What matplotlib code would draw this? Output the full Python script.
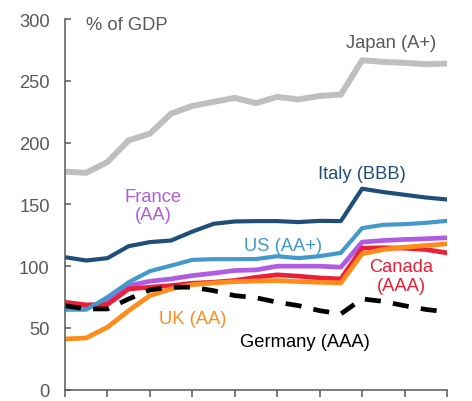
import numpy as np
import matplotlib
matplotlib.use('Agg')
import matplotlib.pyplot as plt

plt.rcParams['font.family'] = ['Liberation Sans', 'DejaVu Sans']

# Gross government debt, % of GDP (19 yearly observations)
okresy = np.arange(19)

japonia = [176.5, 175.6, 184.3, 201.8, 207.3, 223.5, 229.7, 233.0, 236.2, 232.0,
           237.0, 235.0, 237.8, 238.9, 266.7, 265.4, 264.6, 263.5, 264.0]
wlochy = [107.3, 104.6, 106.5, 116.2, 119.5, 120.8, 128.0, 134.3, 136.2, 136.5,
          136.5, 135.7, 136.7, 136.5, 162.7, 160.0, 157.8, 155.6, 154.0]
usa = [64.8, 64.8, 74.9, 87.0, 96.0, 100.5, 105.1, 105.7, 105.7, 105.8,
       108.1, 106.5, 108.1, 110.8, 130.8, 133.5, 134.0, 135.1, 136.7]
francja = [68.0, 66.5, 71.0, 84.3, 87.8, 89.7, 92.4, 94.3, 96.5, 97.0,
           100.0, 100.0, 100.0, 99.2, 119.5, 120.8, 121.6, 122.2, 123.0]
kanada = [70.8, 68.7, 69.0, 81.6, 83.0, 84.3, 86.2, 87.0, 88.4, 91.0,
          93.0, 91.9, 90.5, 89.7, 114.6, 114.9, 114.6, 113.5, 110.8]
wielka_brytania = [41.1, 41.9, 50.6, 64.0, 76.2, 81.6, 85.1, 86.5, 87.5, 88.0,
                   88.4, 87.5, 87.0, 86.5, 110.0, 113.5, 115.4, 116.7, 118.1]
niemcy = [68.0, 65.4, 65.4, 73.5, 80.8, 83.0, 83.0, 80.2, 76.2, 74.5,
          70.8, 68.1, 64.0, 61.4, 73.5, 71.5, 68.0, 65.0, 63.0]

SZARY = '#595959'

fig = plt.figure(figsize=(4.72, 4.02), dpi=100)
ax = fig.add_axes([0.1377, 0.028, 0.8093, 0.922])

ax.plot(okresy, japonia, color='#BFBFBF', lw=4.3)
ax.plot(okresy, wlochy, color='#1F4E79', lw=3.0)
ax.plot(okresy, francja, color='#B05CE0', lw=3.4)
ax.plot(okresy, kanada, color='#E8203A', lw=3.4)
ax.plot(okresy, wielka_brytania, color='#FF8C1A', lw=3.4)
ax.plot(okresy, usa, color='#4499CC', lw=3.0)
ax.plot(okresy, niemcy, color='black', lw=3.4, dashes=(3.4, 2.6))

fs = 13.2
ax.text(1.0, 296, '% of GDP', color=SZARY, fontsize=fs, ha='left', va='center')
ax.text(15.36, 281, 'Japan (A+)', color=SZARY, fontsize=fs, ha='center', va='center')
ax.text(13.98, 174.8, 'Italy (BBB)', color='#1F4E79', fontsize=fs, ha='center', va='center')
ax.text(4.16, 149, 'France\n(AA)', color='#B05CE0', fontsize=fs, ha='center',
        va='center', linespacing=1.1)
ax.text(10.27, 116.7, 'US (AA+)', color='#4499CC', fontsize=fs, ha='center', va='center')
ax.text(15.84, 92.1, 'Canada\n(AAA)', color='#E8203A', fontsize=fs, ha='center',
        va='center', linespacing=1.1)
ax.text(6.02, 57.3, 'UK (AA)', color='#FF8C1A', fontsize=fs, ha='center', va='center')
ax.text(11.31, 38.9, 'Germany (AAA)', color='black', fontsize=fs, ha='center', va='center')

ax.set_xlim(0, 18)
ax.set_ylim(0, 300)
ax.set_yticks(range(0, 301, 50))
ax.set_xticks(range(0, 19, 2))
ax.set_xticklabels([])

for strona in ('top', 'right'):
    ax.spines[strona].set_visible(False)
for strona in ('left', 'bottom'):
    ax.spines[strona].set_color(SZARY)
    ax.spines[strona].set_linewidth(1.1)

ax.tick_params(axis='y', direction='in', length=4.5, width=1.1, color=SZARY,
               labelcolor=SZARY, labelsize=fs, pad=11)
ax.tick_params(axis='x', direction='out', length=5, width=1.1, color=SZARY)

fig.savefig('out.png', dpi=100)
